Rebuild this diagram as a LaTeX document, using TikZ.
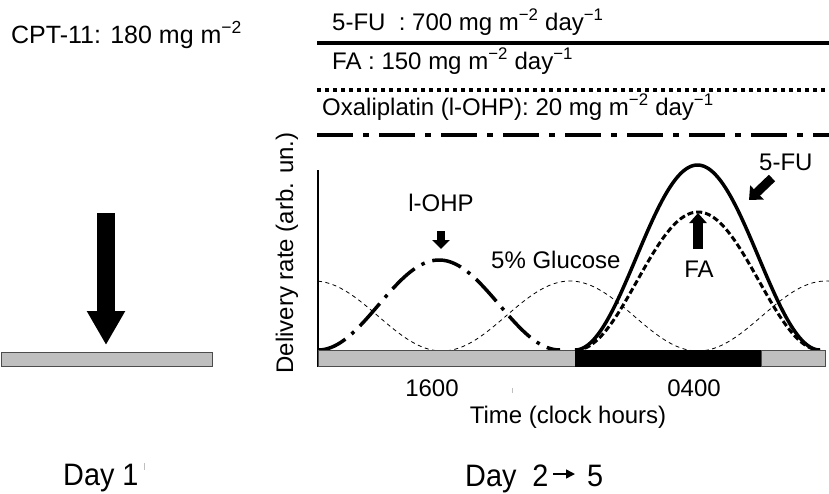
\documentclass[tikz,border=0pt]{standalone}
\usepackage{fontspec}
\setmainfont{Liberation Sans}
\usepackage{graphicx}
\usetikzlibrary{arrows.meta}
\begin{document}
\begin{tikzpicture}[x=1pt,y=-1pt,
  lbl/.style={inner sep=0pt, font=\fontsize{24}{28}\selectfont},
  daylbl/.style={inner sep=0pt, font=\fontsize{31}{36}\selectfont},
  greybar/.style={fill=black!25, draw=black!70, line width=1pt},
  blackbar/.style={fill=black, draw=black, line width=1pt},
  fatarrow/.style n args={3}{line width=#1, -{Triangle[length=#3,width=#2]}},
  speck/.style={draw=black!25, line width=0.8pt}
]
\useasboundingbox (0,0) rectangle (829,493);

% ---------- Day 1 ----------
\node[lbl, anchor=base west, font=\fontsize{25}{29}\selectfont] (cpt) at (11,43) {CPT-11: 180 mg m\textsuperscript{−2}};
\coordinate (bigA) at (106,213);
\coordinate (bigB) at (106,345);
\draw[fatarrow={18pt}{36pt}{34pt}] (bigA) -- (bigB);
\draw[greybar] (1,352) rectangle (212,366);
\node[daylbl, anchor=base west] (day1) at (63,485) {\scalebox{0.93}[1]{Day 1}};
\draw[speck] (144,463) -- (144,470);

% ---------- legend ----------
\node[lbl, anchor=base west] (lfu) at (332,30) {5-FU\ \ : 700 mg m\textsuperscript{−2} day\textsuperscript{−1}};
\coordinate (l1a) at (317,43); \coordinate (l1b) at (829,43);
\draw[line width=4pt] (l1a) -- (l1b);
\node[lbl, anchor=base west] (lfa) at (332,69) {FA : 150 mg m\textsuperscript{−2} day\textsuperscript{−1}};
\coordinate (l2a) at (317,90); \coordinate (l2b) at (829,90);
\draw[line width=4pt, dash pattern=on 4pt off 4pt] (l2a) -- (l2b);
\node[lbl, anchor=base west] (lox) at (322,115) {Oxaliplatin (l-OHP): 20 mg m\textsuperscript{−2} day\textsuperscript{−1}};
\coordinate (l3a) at (317,135); \coordinate (l3b) at (829,135);
\draw[line width=4.5pt, dash pattern=on 36pt off 10pt on 6pt off 10pt] (l3a) -- (l3b);

% ---------- plot ----------
\coordinate (axTop) at (318,170);
\coordinate (axBot) at (318,367);
\draw[line width=2.5pt] (axTop) -- (axBot);
\node[lbl, anchor=base, rotate=90] (ylab) at (293,253) {Delivery rate (arb. un.)};

% glucose
\draw[line width=0.8pt, dash pattern=on 4pt off 3.5pt]
  plot[domain=318:829, samples=200] (\x,{316-35*cos((\x-570)/256*360)});
% l-OHP
\draw[line width=3.5pt, dash pattern=on 30pt off 8pt on 3.5pt off 8pt]
  plot[domain=318:560, samples=120] (\x,{350-45*(1-cos((\x-318)/242*360))});
% FA
\draw[line width=3pt, dash pattern=on 6pt off 3pt]
  plot[domain=576:820, samples=120] (\x,{350-69*(1-cos((\x-576)/244*360))});
% 5-FU
\draw[line width=3.5pt]
  plot[domain=575:820, samples=120] (\x,{350-92.5*(1-cos((\x-575)/245*360))});

% time bar
\draw[greybar] (318,350) rectangle (575,366);
\draw[blackbar] (575,350) rectangle (761,366);
\draw[greybar] (761,350) rectangle (825,366);

% labels and markers
\node[lbl, anchor=base] (ohp) at (441,211) {l-OHP};
\coordinate (ohpA) at (441,231); \coordinate (ohpB) at (441,249);
\draw[fatarrow={8pt}{17pt}{9pt}] (ohpA) -- (ohpB);

\node[lbl, anchor=base west] (glu) at (491,268) {5\% Glucose};

\node[lbl, anchor=base] (fa) at (699,277) {FA};
\coordinate (faA) at (698,249); \coordinate (faB) at (698,213);
\draw[fatarrow={10pt}{17pt}{10pt}] (faA) -- (faB);

\node[lbl, anchor=base west] (fu) at (759,170) {5-FU};
\coordinate (fuA) at (772,178); \coordinate (fuB) at (749,200);
\draw[fatarrow={9pt}{19pt}{11pt}] (fuA) -- (fuB);

\node[lbl, anchor=base] (t16) at (432,396) {1600};
\node[lbl, anchor=base] (t04) at (694,396) {0400};
\draw[speck] (512,388) -- (512,393);
\node[lbl, anchor=base] (time) at (568,423) {Time (clock hours)};

% Day 2 -> 5
\node[daylbl, anchor=base west] (day2) at (465,486) {\scalebox{0.93}[1]{Day\ \ 2}};
\node[daylbl, anchor=base west] (day5) at (587,486) {\scalebox{0.93}[1]{5}};
\coordinate (dA) at (553,474); \coordinate (dB) at (575,474);
\draw[line width=1.5pt, -{Triangle[length=9pt,width=9pt]}] (dA) -- (dB);
\end{tikzpicture}
\end{document}
